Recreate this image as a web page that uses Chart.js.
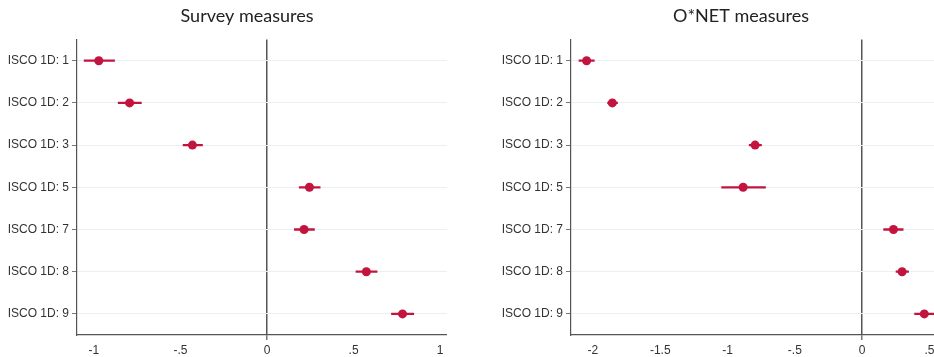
<!DOCTYPE html>
<html>
<head>
  <title>Survey vs O*NET measures</title>
  <script src="https://cdn.jsdelivr.net/npm/chart.js"></script>
  <style>
    html, body {
      margin: 0;
      padding: 0;
      background: #ffffff;
      overflow: hidden;
      width: 934px;
      height: 357px;
    }
    .panel {
      position: absolute;
      top: 0;
      height: 357px;
    }
    #survey-box { left: 0; width: 470px; }
    #onet-box { left: 464px; width: 480px; }
  </style>
</head>
<body>
  <div class="panel" id="survey-box"><canvas id="surveyChart" width="470" height="357"></canvas></div>
  <div class="panel" id="onet-box"><canvas id="onetChart" width="480" height="357"></canvas></div>
  <script>
    // Категории (ISCO 1 digit)
    const categories = ['ISCO 1D: 1', 'ISCO 1D: 2', 'ISCO 1D: 3', 'ISCO 1D: 5', 'ISCO 1D: 7', 'ISCO 1D: 8', 'ISCO 1D: 9'];

    // Survey measures: оценка и доверительный интервал
    const surveyEst = [-0.972, -0.794, -0.431, 0.245, 0.214, 0.574, 0.783];
    const surveyLo = [-1.057, -0.860, -0.485, 0.186, 0.158, 0.514, 0.719];
    const surveyHi = [-0.881, -0.726, -0.373, 0.307, 0.274, 0.636, 0.848];

    // O*NET measures
    const onetEst = [-2.047, -1.856, -0.795, -0.884, 0.233, 0.297, 0.462];
    const onetLo = [-2.104, -1.891, -0.839, -1.044, 0.160, 0.252, 0.390];
    const onetHi = [-1.990, -1.817, -0.748, -0.718, 0.305, 0.345, 0.535];

    // Оси
    const surveyRange = [-1.098, 1.04];
    const surveyTicks = [-1, -0.5, 0, 0.5, 1];
    const surveyTickLabels = ['-1', '-.5', '0', '.5', '1'];
    const onetRange = [-2.163, 0.575];
    const onetTicks = [-2, -1.5, -1, -0.5, 0, 0.5];
    const onetTickLabels = ['-2', '-1.5', '-1', '-.5', '0', '.5'];

    const markColor = '#c2143f';
    const axisColor = '#555555';
    const tickFont = { family: "'Liberation Sans', Arial, sans-serif", size: 12 };

    // подписи оси Y не должны обрезаться узкой шкалой
    const labelRoom = {
      id: 'labelRoom',
      afterLayout(chart) {
        chart.scales.y.left = 0;
      }
    };

    function makeChart(canvasId, title, est, lo, hi, range, ticks, tickLabels, padLeft, padRight) {
      const ctx = document.getElementById(canvasId).getContext('2d');
      return new Chart(ctx, {
        type: 'bar',
        data: {
          labels: categories,
          datasets: [{
            type: 'line',
            data: est,
            showLine: false,
            pointRadius: 4.5,
            pointBorderWidth: 0,
            pointBackgroundColor: markColor,
            order: 0
          }, {
            type: 'bar',
            data: lo.map((l, i) => [l, hi[i]]),
            backgroundColor: markColor,
            barThickness: 1.6,
            borderSkipped: false,
            order: 1
          }]
        },
        plugins: [labelRoom],
        options: {
          responsive: false,
          animation: false,
          indexAxis: 'y',
          layout: {
            padding: { left: padLeft, right: padRight, top: 0, bottom: 0 }
          },
          scales: {
            x: {
              type: 'linear',
              min: range[0],
              max: range[1],
              afterBuildTicks: (scale) => {
                scale.ticks = ticks.map(v => ({ value: v }));
              },
              afterFit: (scale) => { scale.height = 22; },
              ticks: {
                color: '#333333',
                font: tickFont,
                padding: 3,
                maxRotation: 0,
                callback: (value) => tickLabels[ticks.indexOf(value)]
              },
              grid: {
                color: (c) => (c.tick && c.tick.value === 0) ? axisColor : 'rgba(0,0,0,0)',
                lineWidth: (c) => (c.tick && c.tick.value === 0) ? 1.5 : 0,
                tickColor: '#777777',
                tickLength: 5
              },
              border: { color: axisColor, width: 1.2 }
            },
            y: {
              type: 'category',
              offset: true,
              afterFit: (scale) => { scale.width = 30; },
              ticks: {
                color: '#333333',
                font: tickFont,
                padding: 3
              },
              grid: {
                offset: false,
                color: '#e8f0f2',
                lineWidth: 1,
                tickColor: '#777777',
                tickLength: 5
              },
              border: { color: axisColor, width: 1.2 }
            }
          },
          plugins: {
            legend: { display: false },
            tooltip: { enabled: false },
            title: {
              display: true,
              text: title,
              color: '#222222',
              font: { family: "Lato, 'Open Sans', sans-serif", size: 18, weight: 'normal' },
              padding: { top: 5, bottom: 13 }
            }
          }
        }
      });
    }

    makeChart('surveyChart', 'Survey measures', surveyEst, surveyLo, surveyHi,
      surveyRange, surveyTicks, surveyTickLabels, 47, 23);
    makeChart('onetChart', 'O*NET measures', onetEst, onetLo, onetHi,
      onetRange, onetTicks, onetTickLabels, 77, 3);
  </script>
</body>
</html>
